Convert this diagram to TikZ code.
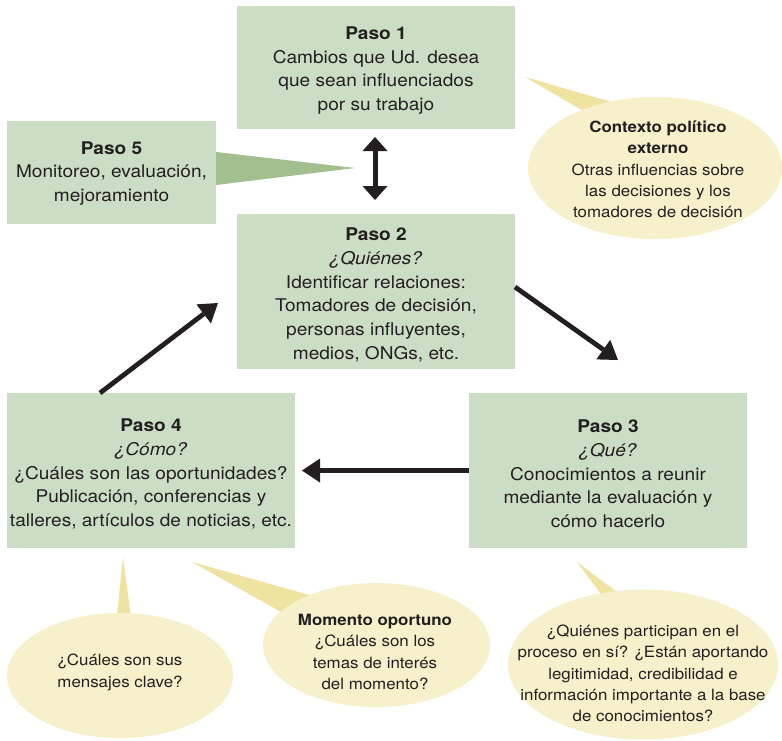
\documentclass[tikz,border=0pt]{standalone}
\usepackage{fontspec}
\setmainfont{TeX Gyre Heros}[FakeStretch=1.09]
\usetikzlibrary{shapes.geometric,arrows.meta}
\definecolor{boxg}{HTML}{CCDDC5}
\definecolor{darkg}{HTML}{A3BE8F}
\definecolor{ell}{HTML}{F6F0CB}
\definecolor{tailc}{HTML}{EEE3A0}
\definecolor{ink}{HTML}{231F20}
\begin{document}
\begin{tikzpicture}[x=1pt,y=-1pt,
  stepbox/.style={rectangle,fill=boxg,inner sep=0pt},
  steptext/.style={align=center,text=ink,inner sep=0pt,
    font=\fontsize{17.5}{23.7}\selectfont},
  bubble/.style={ellipse,fill=ell,inner sep=0pt},
  btext/.style={align=center,text=ink,inner sep=0pt,
    font=\fontsize{15.5}{21.3}\selectfont},
  arr/.style={line width=4.8pt,draw=ink,
    -{Triangle[length=18pt,width=24pt,line width=0pt]}},
  dblarr/.style={line width=5pt,draw=ink,
    {Triangle[length=14pt,width=25pt,line width=0pt]}-{Triangle[length=14pt,width=25pt,line width=0pt]}}
]
\useasboundingbox (0,0) rectangle (782,740);
\fill[white] (0,0) rectangle (782,740);

% tails of the callouts
\fill[tailc] (525,77) -- (599,120) -- (629,107) -- cycle;
\fill[tailc] (123,557) -- (116,625) -- (132,625) -- cycle;
\fill[tailc] (192,562) -- (320,598) -- (290,617) -- cycle;
\fill[tailc] (577,562) -- (607,602) -- (629,601) -- cycle;

% step boxes
\node[stepbox,minimum width=278pt,minimum height=123pt] (b1) at (376,67.5) {};
\node[steptext] (l1) at (376,70.5)
  {\textbf{Paso 1}\\Cambios que Ud. desea\\que sean influenciados\\por su trabajo};
\node[stepbox,minimum width=209pt,minimum height=103pt] (b5) at (111.5,172.5) {};
\node[steptext] (l5) at (111.5,173.5)
  {\textbf{Paso 5}\\Monitoreo, evaluación,\\mejoramiento};
\fill[darkg] (216,152) -- (355,168) -- (216,185) -- cycle;
\node[stepbox,minimum width=278pt,minimum height=155pt] (b2) at (376,291.5) {};
\node[steptext] (l2) at (376,295)
  {\textbf{Paso 2}\\\textit{¿Quiénes?}\\Identificar relaciones:\\Tomadores de decisión,\\personas influyentes,\\medios, ONGs, etc.};
\node[stepbox,minimum width=288pt,minimum height=155pt] (b4) at (151,470.5) {};
\node[steptext] (l4) at (151,474)
  {\textbf{Paso 4}\\\textit{¿Cómo?}\\¿Cuáles son las oportunidades?\\Publicación, conferencias y\\talleres, artículos de noticias, etc.};
\node[stepbox,minimum width=278pt,minimum height=155pt] (b3) at (608,470.5) {};
\node[steptext] (l3) at (608,474)
  {\textbf{Paso 3}\\\textit{¿Qué?}\\Conocimientos a reunir\\mediante la evaluación y\\cómo hacerlo};

% callout ellipses
\node[bubble,minimum width=254pt,minimum height=142pt] (e1) at (655,168) {};
\node[btext] (t1) at (658,169.5)
  {\textbf{Contexto político}\\\textbf{externo}\\Otras influencias sobre\\las decisiones y los\\tomadores de decisión};
\node[bubble,minimum width=226pt,minimum height=125pt] (e2) at (120,675.5) {};
\node[btext] (t2) at (120,672.5) {¿Cuáles son sus\\mensajes clave?};
\node[bubble,minimum width=227pt,minimum height=124pt] (e3) at (376.5,645) {};
\node[btext] (t3) at (375,652)
  {\textbf{Momento oportuno}\\¿Cuáles son los\\temas de interés\\del momento?};
\node[bubble,minimum width=270pt,minimum height=150pt] (e4) at (643,664.5) {};
\node[btext] (t4) at (643,673.5)
  {¿Quiénes participan en el\\proceso en sí? ¿Están aportando\\legitimidad, credibilidad e\\información importante a la base\\de conocimientos?};

% arrows
\coordinate (d1) at (375,137);
\coordinate (d2) at (375,200);
\draw[dblarr] (d1) -- (d2);
\coordinate (s23) at (515,287);
\coordinate (t23) at (618,360);
\draw[arr] (s23) -- (t23);
\coordinate (t34) at (302,470.5);
\draw[arr] (b3.west) -- (t34);
\coordinate (s42) at (100,393);
\coordinate (t42) at (218,303);
\draw[arr] (s42) -- (t42);
\end{tikzpicture}
\end{document}
